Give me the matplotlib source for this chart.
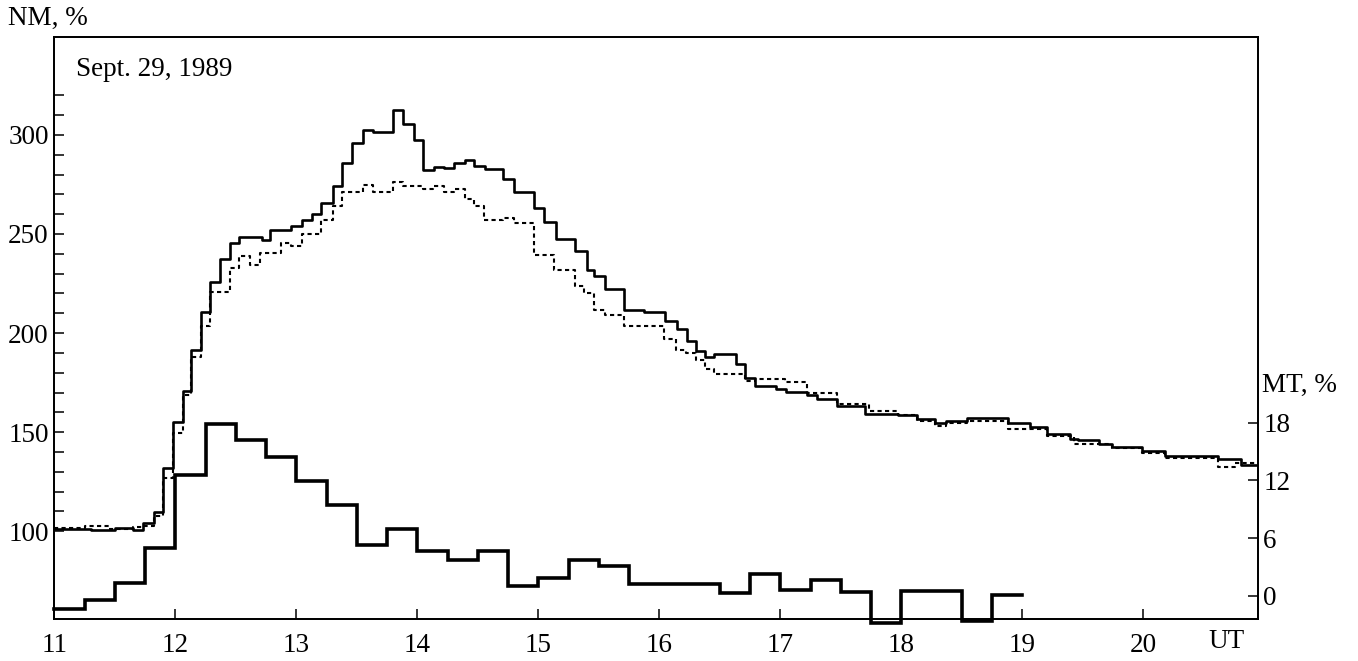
import matplotlib
matplotlib.use("Agg")
import matplotlib.pyplot as plt

plt.rcParams['font.family'] = ['Liberation Serif', 'DejaVu Serif']

# Neutron monitor (solid) step curve: step start times (UT hours) and values (%)
nm_solid_t = [11.00, 11.30, 11.50, 11.65, 11.73, 11.82, 11.90, 11.98, 12.06, 12.13,
              12.21, 12.29, 12.37, 12.45, 12.53, 12.72, 12.78, 12.96, 13.05, 13.13,
              13.20, 13.30, 13.38, 13.46, 13.55, 13.63, 13.80, 13.88, 13.97, 14.05,
              14.14, 14.22, 14.30, 14.39, 14.47, 14.56, 14.71, 14.80, 14.96, 15.05,
              15.15, 15.30, 15.40, 15.46, 15.55, 15.71, 15.87, 16.05, 16.15, 16.23,
              16.30, 16.38, 16.45, 16.63, 16.71, 16.79, 16.96, 17.05, 17.22, 17.30,
              17.47, 17.70, 17.97, 18.13, 18.28, 18.37, 18.54, 18.88, 19.06, 19.20,
              19.39, 19.46, 19.63, 19.74, 19.99, 20.18, 20.62, 20.81, 20.95]
nm_solid_v = [101.0, 100.5, 101.5, 100.5, 104.4, 109.7, 132.0, 155.3, 171.0, 191.3,
              210.7, 226.0, 237.4, 245.7, 248.5, 247.0, 251.8, 254.0, 257.0, 260.0,
              265.7, 274.0, 286.0, 296.0, 302.5, 301.3, 312.6, 305.4, 297.5, 282.4,
              284.0, 283.2, 286.0, 287.4, 284.4, 282.7, 277.7, 271.0, 263.0, 256.0,
              247.6, 241.2, 232.0, 228.6, 222.3, 211.8, 210.7, 205.9, 202.3, 195.9,
              191.2, 188.0, 189.2, 184.6, 177.4, 173.2, 171.9, 170.2, 168.5, 166.5,
              163.1, 159.4, 158.8, 156.8, 154.4, 155.6, 157.3, 154.4, 152.7, 148.9,
              146.7, 146.0, 143.8, 142.5, 140.5, 137.9, 136.3, 133.2, 133.2]

# Neutron monitor (dotted) step curve
nm_dot_t = [11.00, 11.25, 11.45, 11.65, 11.73, 11.82, 11.90, 11.98, 12.06, 12.13,
            12.21, 12.29, 12.45, 12.53, 12.62, 12.70, 12.87, 12.96, 13.05, 13.20,
            13.30, 13.38, 13.55, 13.63, 13.80, 13.88, 14.05, 14.13, 14.22, 14.30,
            14.39, 14.47, 14.55, 14.71, 14.80, 14.96, 15.13, 15.30, 15.38, 15.46,
            15.55, 15.71, 16.04, 16.14, 16.22, 16.30, 16.38, 16.45, 16.71, 16.79,
            17.04, 17.22, 17.47, 17.73, 17.97, 18.13, 18.28, 18.37, 18.54, 18.88,
            19.20, 19.43, 19.74, 19.99, 20.18, 20.62, 20.76, 20.95]
nm_dot_v = [101.5, 102.5, 101.0, 102.0, 102.7, 107.7, 127.0, 149.7, 169.0, 188.0,
            203.8, 220.6, 232.8, 238.7, 234.5, 240.4, 245.7, 243.7, 250.0, 257.0,
            263.9, 271.4, 274.8, 271.4, 276.0, 274.0, 272.6, 274.0, 271.4, 272.6,
            267.6, 263.9, 257.2, 258.0, 255.5, 239.5, 232.0, 223.6, 220.0, 211.8,
            209.3, 203.4, 197.1, 191.7, 189.7, 186.6, 182.0, 179.1, 175.7, 176.9,
            175.2, 169.8, 164.0, 160.6, 158.5, 155.7, 153.0, 154.6, 155.7, 151.4,
            148.0, 143.8, 142.0, 139.6, 137.1, 132.6, 134.6, 134.6]

# Muon telescope (thick) 15-min histogram
mt_t = [11.00, 11.25, 11.50, 11.75, 12.00, 12.25, 12.50, 12.75, 13.00, 13.25,
        13.50, 13.75, 14.00, 14.25, 14.50, 14.75, 15.00, 15.25, 15.50, 15.75,
        16.50, 16.75, 17.00, 17.25, 17.50, 17.75, 18.00, 18.50, 18.75, 19.00]
mt_v = [-1.4, -0.45, 1.3, 4.95, 12.6, 17.9, 16.2, 14.4, 11.9, 9.4,
        5.3, 6.9, 4.7, 3.7, 4.7, 1.0, 1.8, 3.7, 3.1, 1.2,
        0.3, 2.25, 0.6, 1.6, 0.4, -2.8, 0.5, -2.6, 0.1, 0.1]

x_ticks = [11, 12, 13, 14, 15, 16, 17, 18, 19, 20]
nm_ticks = list(range(100, 330, 10))
nm_labels = [str(v) if v % 50 == 0 else '' for v in nm_ticks]
mt_ticks = [0, 6, 12, 18]

FS = 19.5
fig = plt.figure(figsize=(13.58, 6.61), dpi=100)
ax = fig.add_axes([0.040, 0.0635, 0.8866, 0.8805])
ax2 = ax.twinx()

ax.plot(nm_dot_t, nm_dot_v, drawstyle='steps-post', color='black', lw=1.5,
        linestyle=(0, (2.0, 1.6)))
ax.plot(nm_solid_t, nm_solid_v, drawstyle='steps-post', color='black', lw=1.9)
ax2.plot(mt_t, mt_v, drawstyle='steps-post', color='black', lw=2.6, clip_on=False,
         solid_joinstyle='miter')

ax.set_xlim(11, 20.95)
ax.set_ylim(55.7, 349.4)
ax2.set_ylim(-2.42, 58.1)

ax.set_xticks(x_ticks)
ax.set_xticklabels([str(v) for v in x_ticks])
ax.set_yticks(nm_ticks)
ax.set_yticklabels(nm_labels)
ax2.set_yticks(mt_ticks)
ax2.set_yticklabels([str(v) for v in mt_ticks])

for a in (ax, ax2):
    for s in a.spines.values():
        s.set_linewidth(1.3)
        s.set_color('black')

ax.tick_params(axis='x', direction='in', length=7, width=1.1, labelsize=FS, pad=10,
               top=False)
ax.tick_params(axis='y', direction='in', length=7.5, width=1.1, labelsize=FS, pad=4,
               right=False)
ax2.tick_params(axis='y', direction='in', length=7, width=1.1, labelsize=FS, pad=3.5,
                left=False)

fig.text(8 / 1358, 1 - 18 / 661, 'NM, %', fontsize=FS, ha='left', va='center')
fig.text(1262 / 1358, 1 - 385 / 661, 'MT, %', fontsize=FS, ha='left', va='center')
fig.text(1227 / 1358, 1 - 641 / 661, 'UT', fontsize=FS, ha='center', va='center')
ax.text(0.018, 0.945, 'Sept. 29, 1989', transform=ax.transAxes, fontsize=FS,
        ha='left', va='center')

fig.savefig('out.png', dpi=100)
